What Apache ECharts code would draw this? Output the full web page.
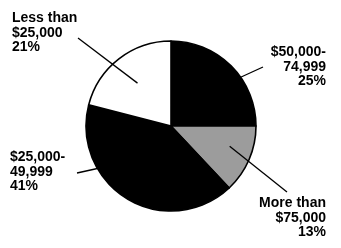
<!DOCTYPE html>
<html>
<head>
<meta charset="utf-8">
<script src="https://cdn.jsdelivr.net/npm/echarts@6/dist/echarts.min.js"></script>
<style>
html, body { margin: 0; padding: 0; background: #fff; }
#pie { width: 341px; height: 248px; }
</style>
</head>
<body>
<div id="pie"></div>
<script>
// income groups, clockwise from 12 o'clock
var groups = ['$50,000-\n74,999', 'More than\n$75,000', '$25,000-\n49,999', 'Less than\n$25,000'];
var shares = [25, 13, 41, 21];
var fills = ['#000000', '#9c9c9c', '#000000', '#ffffff'];

// label block placement (top-left or top-right corner) and leader line
var labelSpots = [
    {x: 326, y: 45, align: 'right', ang: 55, frac: 1.0, end: [263, 67]},
    {x: 326, y: 196, align: 'right', ang: 109, frac: 0.73, end: [287, 192]},
    {x: 10, y: 150, align: 'left', ang: 240, frac: 1.0, end: [77, 173]},
    {x: 12, y: 11, align: 'left', ang: 322, frac: 0.64, end: [78, 38]}
];

var cx = 171, cy = 126, R = 85;

var mychart = echarts.init(document.getElementById('pie'));

var pieData = [], labelData = [];
for (var i = 0; i < groups.length; i++) {
    pieData.push({name: groups[i], value: shares[i], itemStyle: {color: fills[i]}});
    labelData.push({name: groups[i], value: shares[i]});
}

var option = {
    animation: false,
    series: [{
        // the filled slices
        type: 'pie',
        center: [cx, cy],
        radius: R,
        startAngle: 90,
        clockwise: true,
        z: 2,
        silent: true,
        itemStyle: {borderColor: '#000', borderWidth: 1.6},
        label: {show: false},
        labelLine: {show: false},
        data: pieData
    }, {
        // same slices, see-through, only carrying labels and leader lines on top
        type: 'pie',
        center: [cx, cy],
        radius: R,
        startAngle: 90,
        clockwise: true,
        z: 5,
        avoidLabelOverlap: false,
        itemStyle: {color: 'rgba(0,0,0,0)', borderWidth: 0},
        label: {
            show: true,
            position: 'outside',
            formatter: '{b}\n{c}%',
            color: '#000',
            fontFamily: 'Liberation Sans',
            fontWeight: 'bold',
            fontSize: 14,
            lineHeight: 14.5
        },
        labelLine: {
            show: true,
            lineStyle: {color: '#000', width: 1.3}
        },
        labelLayout: function (params) {
            var s = labelSpots[params.dataIndex];
            var a = s.ang * Math.PI / 180;
            var inner = [cx + Math.sin(a) * R * s.frac, cy - Math.cos(a) * R * s.frac];
            return {
                x: s.x,
                y: s.y,
                align: s.align,
                verticalAlign: 'top',
                labelLinePoints: [inner, s.end, s.end]
            };
        },
        data: labelData
    }]
};
mychart.setOption(option);
</script>
</body>
</html>
